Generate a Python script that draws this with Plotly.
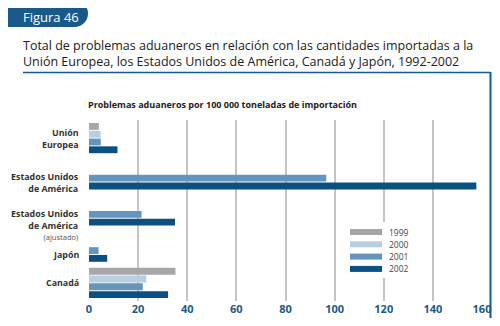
import plotly.graph_objects as go

# data
categorias = ["Unión Europea", "Estados Unidos de América", "Estados Unidos de América (ajustado)", "Japón", "Canadá"]
etiquetas = ["<b>Unión<br>Europea</b>",
             "<b>Estados Unidos<br>de América</b>",
             "<b>Estados Unidos<br>de América</b><br><span style='font-size:7.5px;color:#555'>(ajustado)</span>",
             "<b>Japón</b>",
             "<b>Canadá</b>"]
anios = ["1999", "2000", "2001", "2002"]
v1999 = [4.0, None, None, None, 35.2]
v2000 = [4.7, None, None, None, 23.3]
v2001 = [4.8, 96.6, 21.4, 3.9, 21.9]
v2002 = [11.6, 157.7, 35.0, 7.4, 32.2]
ticks = [0, 20, 40, 60, 80, 100, 120, 140, 160]

colores = ["#a7a7a9", "#b8cfe2", "#6496bd", "#0b5080"]
azul = "#1a5a8a"
FONT = "Open Sans"

# the page puts the figure 8px in from the top-left corner; keep it inside the window
OFF = 8
W, H = 500 - 2 * OFF, 326 - 2 * OFF
# plot area, in page pixels
PL, PR, PT, PB = 89, 482, 120, 301
L, R, T, B = PL - OFF, PR - OFF, PT - OFF, PB - OFF
def px(x):
    return (x - PL) / (PR - PL)
def py(y):
    return (PB - y) / (PB - PT)

fig = go.Figure()
for anio, vals, col in zip(anios, [v1999, v2000, v2001, v2002], colores):
    fig.add_trace(go.Bar(y=categorias, x=vals, name=anio, orientation="h",
                         marker=dict(color=col, line=dict(width=0)), showlegend=False))

shapes = []
annots = []

# tab "Figura 46"
shapes.append(dict(type="rect", xref="paper", yref="paper", x0=px(0), x1=px(76), y0=py(0), y1=py(27),
                   fillcolor=azul, line=dict(width=0), layer="above"))
shapes.append(dict(type="circle", xref="paper", yref="paper", x0=px(61), x1=px(88), y0=py(0), y1=py(27),
                   fillcolor=azul, line=dict(width=0), layer="above"))
annots.append(dict(text="Figura 46", xref="paper", yref="paper", x=px(21), y=py(17.5),
                   xanchor="left", yanchor="middle", showarrow=False,
                   font=dict(family=FONT, size=13, color="white")))

# title
annots.append(dict(text="Total de problemas aduaneros en relación con las cantidades importadas a la<br>"
                        "Unión Europea, los Estados Unidos de América, Canadá y Japón, 1992-2002",
                   xref="paper", yref="paper", x=px(21), y=py(53.5), xanchor="left", yanchor="middle",
                   align="left", showarrow=False, font=dict(family=FONT, size=12.5, color="#222")))
# frame lines
shapes.append(dict(type="line", xref="paper", yref="paper", x0=px(23), x1=px(491), y0=py(72.5), y1=py(72.5),
                   line=dict(color=azul, width=1.5)))
shapes.append(dict(type="line", xref="paper", yref="paper", x0=px(490.5), x1=px(490.5), y0=py(72), y1=py(330),
                   line=dict(color=azul, width=2)))

# subtitle
annots.append(dict(text="<b>Problemas aduaneros por 100 000 toneladas de importación</b>",
                   xref="paper", yref="paper", x=px(86), y=py(104), xanchor="left", yanchor="middle",
                   showarrow=False, font=dict(family=FONT, size=9, color="#222")))

# category labels
desplaz = [0, -8, -14, -8, 0]
for cat, lab, dy in zip(categorias, etiquetas, desplaz):
    annots.append(dict(text=lab, xref="paper", yref="y", x=px(81), y=cat, yshift=dy,
                       xanchor="right", yanchor="middle", align="right", showarrow=False,
                       font=dict(family=FONT, size=8.9, color="#333")))

# legend
shapes.append(dict(type="rect", xref="paper", yref="paper", x0=px(344), x1=px(418), y0=py(222), y1=py(278),
                   fillcolor="white", line=dict(width=0), layer="above"))
for i, (anio, col) in enumerate(zip(anios, colores)):
    yc = 232 + i * 12.3
    shapes.append(dict(type="rect", xref="paper", yref="paper", x0=px(350), x1=px(382),
                       y0=py(yc - 3), y1=py(yc + 3), fillcolor=col, line=dict(width=0), layer="above"))
    annots.append(dict(text=anio, xref="paper", yref="paper", x=px(387), y=py(yc), xanchor="left",
                       yanchor="middle", showarrow=False, font=dict(family=FONT, size=8.5, color="#444")))

fig.update_layout(
    width=W, height=H,
    margin=dict(l=L, r=W - R, t=T, b=H - B, autoexpand=False),
    paper_bgcolor="white", plot_bgcolor="white",
    barmode="group", bargap=0.14, bargroupgap=0.12,
    shapes=shapes, annotations=annots,
    showlegend=False,
    xaxis=dict(range=[0, 160], tickvals=ticks, showgrid=True, gridcolor="#c4c4c4", gridwidth=1.5,
               zeroline=False, showline=False, ticks="", ticklabelstandoff=0, automargin=False,
               tickfont=dict(family=FONT, size=11, color=azul, weight="bold")),
    yaxis=dict(autorange="reversed", showticklabels=False, showgrid=False, zeroline=False, showline=False,
               automargin=False),
)

fig.write_html("out.html")
